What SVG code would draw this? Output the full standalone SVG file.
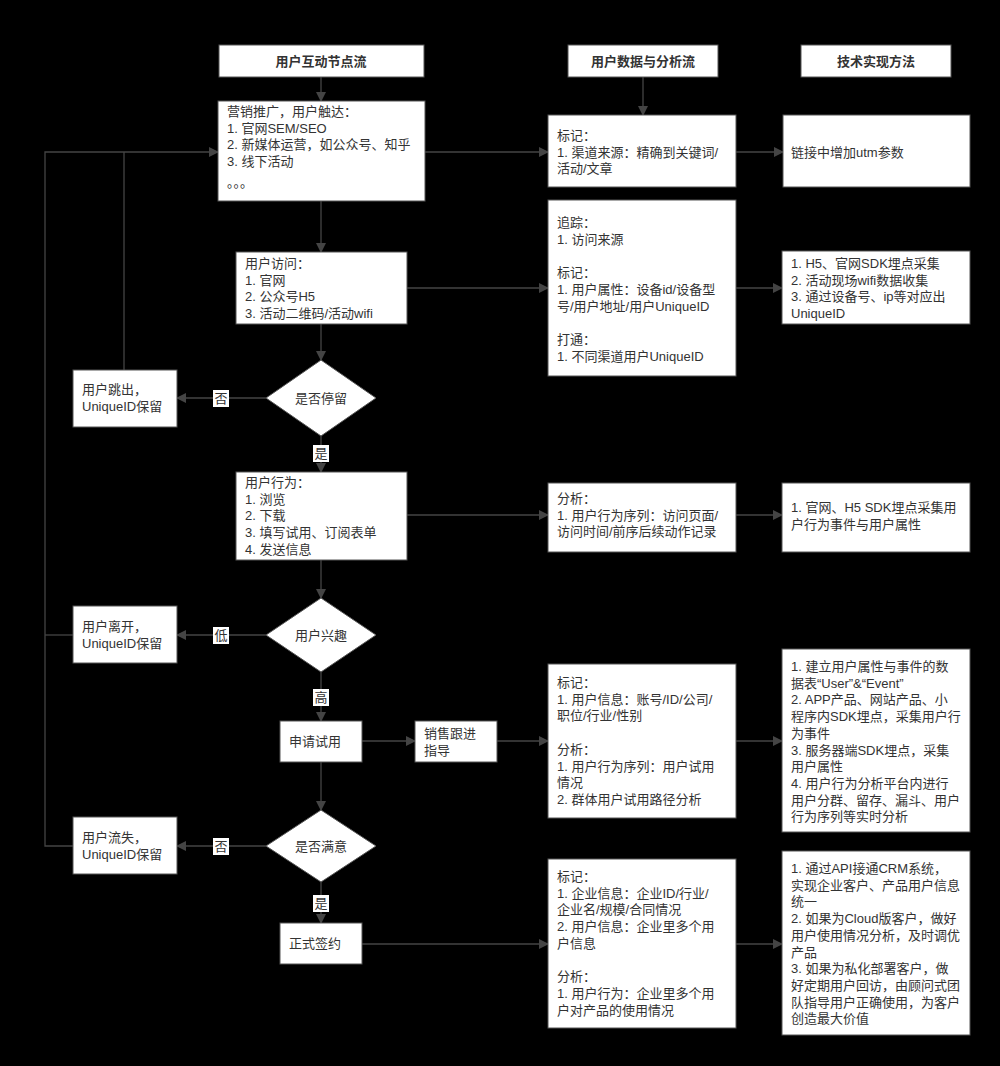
<svg xmlns="http://www.w3.org/2000/svg" width="1000" height="1066" viewBox="0 0 1000 1066">
<defs>
<marker id="ar" markerWidth="10" markerHeight="10" refX="9" refY="5" orient="auto" markerUnits="userSpaceOnUse"><path d="M0,0 L10,5 L0,10 Z" fill="#444"/></marker>
<style>
.b{fill:#fff;stroke:#555;stroke-width:1}
.t{font-family:"Liberation Sans","Noto Sans CJK SC",sans-serif;font-size:13px;fill:#333}
.h{font-family:"Noto Sans CJK SC",sans-serif;font-size:13px;font-weight:bold;fill:#333;text-anchor:middle}
.c{text-anchor:middle}
.l{stroke:#444;stroke-width:1.3;fill:none}
.a{stroke:#444;stroke-width:1.3;fill:none;marker-end:url(#ar)}
.lb{fill:#fff}
</style>
</defs>
<rect width="1000" height="1066" fill="#000"/>
<g id="connectors">
<path class="a" d="M321,77 V101"/>
<path class="a" d="M643,77 V115"/>
<path class="a" d="M321,201 V252"/>
<path class="a" d="M321,324 V360"/>
<path class="a" d="M321,436 V472"/>
<path class="a" d="M321,560 V598"/>
<path class="a" d="M321,672 V721"/>
<path class="a" d="M321,762 V810"/>
<path class="a" d="M321,882 V923"/>
<path class="a" d="M425,152 H548"/>
<path class="a" d="M736,152 H783"/>
<path class="a" d="M407,288 H548"/>
<path class="a" d="M736,288 H782"/>
<path class="a" d="M407,515 H548"/>
<path class="a" d="M736,515 H782"/>
<path class="a" d="M362,741 H415"/>
<path class="a" d="M497,741 H548"/>
<path class="a" d="M736,741 H782"/>
<path class="a" d="M362,944 H548"/>
<path class="a" d="M736,944 H782"/>
<path class="a" d="M266,398 H177"/>
<path class="a" d="M266,635 H177"/>
<path class="a" d="M266,846 H177"/>
<path class="l" d="M124,370 V152"/>
<path class="a" d="M73,846 H45 V152 H218"/>
<path class="l" d="M73,635 H45"/>
<rect class="lb" x="213" y="390" width="16" height="17"/><text class="t c" x="221" y="403">否</text>
<rect class="lb" x="213" y="627" width="16" height="17"/><text class="t c" x="221" y="640">低</text>
<rect class="lb" x="213" y="838" width="16" height="17"/><text class="t c" x="221" y="851">否</text>
<rect class="lb" x="313" y="445" width="16" height="17"/><text class="t c" x="321" y="458">是</text>
<rect class="lb" x="313" y="689" width="16" height="17"/><text class="t c" x="321" y="702">高</text>
<rect class="lb" x="313" y="895" width="16" height="17"/><text class="t c" x="321" y="908">是</text>
</g>
<g id="h1"><rect class="b" x="219" y="45" width="205" height="32"/><text class="h" x="321" y="66">用户互动节点流</text></g>
<g id="h2"><rect class="b" x="568" y="45" width="150" height="32"/><text class="h" x="643" y="66">用户数据与分析流</text></g>
<g id="h3"><rect class="b" x="801" y="45" width="150" height="32"/><text class="h" x="876" y="66">技术实现方法</text></g>
<g id="n1"><rect class="b" x="218" y="101" width="207" height="100"/><text class="t" x="227" y="116"><tspan x="227">营销推广，用户触达：</tspan><tspan x="227" dy="16.7">1. 官网SEM/SEO</tspan><tspan x="227" dy="16.7">2. 新媒体运营，如公众号、知乎</tspan><tspan x="227" dy="16.7">3. 线下活动</tspan><tspan x="227" dy="21">。。。</tspan></text></g>
<g id="n2"><rect class="b" x="236" y="252" width="171" height="72"/><text class="t" x="245" y="268"><tspan x="245">用户访问：</tspan><tspan x="245" dy="16.7">1. 官网</tspan><tspan x="245" dy="16.7">2. 公众号H5</tspan><tspan x="245" dy="16.7">3. 活动二维码/活动wifi</tspan></text></g>
<g id="d1"><polygon class="b" points="321,360 376,398 321,436 266,398"/><text class="t c" x="321" y="403">是否停留</text></g>
<g id="n3"><rect class="b" x="73" y="370" width="104" height="57"/><text class="t" x="82" y="394"><tspan x="82">用户跳出，</tspan><tspan x="82" dy="16.7">UniqueID保留</tspan></text></g>
<g id="n4"><rect class="b" x="236" y="472" width="171" height="88"/><text class="t" x="245" y="487"><tspan x="245">用户行为：</tspan><tspan x="245" dy="16.7">1. 浏览</tspan><tspan x="245" dy="16.7">2. 下载</tspan><tspan x="245" dy="16.7">3. 填写试用、订阅表单</tspan><tspan x="245" dy="16.7">4. 发送信息</tspan></text></g>
<g id="d2"><polygon class="b" points="321,598 376,635 321,672 266,635"/><text class="t c" x="321" y="640">用户兴趣</text></g>
<g id="n5"><rect class="b" x="73" y="606" width="104" height="57"/><text class="t" x="82" y="631"><tspan x="82">用户离开，</tspan><tspan x="82" dy="16.7">UniqueID保留</tspan></text></g>
<g id="n6"><rect class="b" x="280" y="721" width="82" height="41"/><text class="t" x="289" y="746">申请试用</text></g>
<g id="n7"><rect class="b" x="415" y="721" width="82" height="41"/><text class="t" x="424" y="738"><tspan x="424">销售跟进</tspan><tspan x="424" dy="16.7">指导</tspan></text></g>
<g id="d3"><polygon class="b" points="321,810 376,846 321,882 266,846"/><text class="t c" x="321" y="851">是否满意</text></g>
<g id="n8"><rect class="b" x="73" y="817" width="104" height="57"/><text class="t" x="82" y="842"><tspan x="82">用户流失，</tspan><tspan x="82" dy="16.7">UniqueID保留</tspan></text></g>
<g id="n9"><rect class="b" x="280" y="923" width="82" height="41"/><text class="t" x="289" y="948">正式签约</text></g>
<g id="m1"><rect class="b" x="548" y="115" width="188" height="72"/><text class="t" x="557" y="140"><tspan x="557">标记：</tspan><tspan x="557" dy="16.7">1. 渠道来源：精确到关键词/</tspan><tspan x="557" dy="16.7">活动/文章</tspan></text></g>
<g id="m2"><rect class="b" x="548" y="200" width="188" height="176"/><text class="t" x="557" y="227"><tspan x="557">追踪：</tspan><tspan x="557" dy="16.7">1. 访问来源</tspan><tspan x="557" dy="33.4">标记：</tspan><tspan x="557" dy="16.7">1. 用户属性：设备id/设备型</tspan><tspan x="557" dy="16.7">号/用户地址/用户UniqueID</tspan><tspan x="557" dy="33.4">打通：</tspan><tspan x="557" dy="16.7">1. 不同渠道用户UniqueID</tspan></text></g>
<g id="m3"><rect class="b" x="548" y="483" width="188" height="69"/><text class="t" x="557" y="503"><tspan x="557">分析：</tspan><tspan x="557" dy="16.7">1. 用户行为序列：访问页面/</tspan><tspan x="557" dy="16.7">访问时间/前序后续动作记录</tspan></text></g>
<g id="m4"><rect class="b" x="548" y="664" width="188" height="154"/><text class="t" x="557" y="687"><tspan x="557">标记：</tspan><tspan x="557" dy="16.7">1. 用户信息：账号/ID/公司/</tspan><tspan x="557" dy="16.7">职位/行业/性别</tspan><tspan x="557" dy="33.4">分析：</tspan><tspan x="557" dy="16.7">1. 用户行为序列：用户试用</tspan><tspan x="557" dy="16.7">情况</tspan><tspan x="557" dy="16.7">2. 群体用户试用路径分析</tspan></text></g>
<g id="m5"><rect class="b" x="548" y="859" width="188" height="169"/><text class="t" x="557" y="881"><tspan x="557">标记：</tspan><tspan x="557" dy="16.7">1. 企业信息：企业ID/行业/</tspan><tspan x="557" dy="16.7">企业名/规模/合同情况</tspan><tspan x="557" dy="16.7">2. 用户信息：企业里多个用</tspan><tspan x="557" dy="16.7">户信息</tspan><tspan x="557" dy="33.4">分析：</tspan><tspan x="557" dy="16.7">1. 用户行为：企业里多个用</tspan><tspan x="557" dy="16.7">户对产品的使用情况</tspan></text></g>
<g id="t1"><rect class="b" x="783" y="115" width="187" height="72"/><text class="t" x="791" y="157">链接中增加utm参数</text></g>
<g id="t2"><rect class="b" x="782" y="251" width="188" height="73"/><text class="t" x="791" y="268"><tspan x="791">1. H5、官网SDK埋点采集</tspan><tspan x="791" dy="16.7">2. 活动现场wifi数据收集</tspan><tspan x="791" dy="16.7">3. 通过设备号、ip等对应出</tspan><tspan x="791" dy="16.7">UniqueID</tspan></text></g>
<g id="t3"><rect class="b" x="782" y="483" width="188" height="69"/><text class="t" x="791" y="512"><tspan x="791">1. 官网、H5 SDK埋点采集用</tspan><tspan x="791" dy="16.7">户行为事件与用户属性</tspan></text></g>
<g id="t4"><rect class="b" x="782" y="649" width="188" height="183"/><text class="t" x="791" y="671"><tspan x="791">1. 建立用户属性与事件的数</tspan><tspan x="791" dy="16.7">据表“User”&amp;“Event”</tspan><tspan x="791" dy="16.7">2. APP产品、网站产品、小</tspan><tspan x="791" dy="16.7">程序内SDK埋点，采集用户行</tspan><tspan x="791" dy="16.7">为事件</tspan><tspan x="791" dy="16.7">3. 服务器端SDK埋点，采集</tspan><tspan x="791" dy="16.7">用户属性</tspan><tspan x="791" dy="16.7">4. 用户行为分析平台内进行</tspan><tspan x="791" dy="16.7">用户分群、留存、漏斗、用户</tspan><tspan x="791" dy="16.7">行为序列等实时分析</tspan></text></g>
<g id="t5"><rect class="b" x="782" y="851" width="188" height="184"/><text class="t" x="791" y="873"><tspan x="791">1. 通过API接通CRM系统，</tspan><tspan x="791" dy="16.7">实现企业客户、产品用户信息</tspan><tspan x="791" dy="16.7">统一</tspan><tspan x="791" dy="16.7">2. 如果为Cloud版客户，做好</tspan><tspan x="791" dy="16.7">用户使用情况分析，及时调优</tspan><tspan x="791" dy="16.7">产品</tspan><tspan x="791" dy="16.7">3. 如果为私化部署客户，做</tspan><tspan x="791" dy="16.7">好定期用户回访，由顾问式团</tspan><tspan x="791" dy="16.7">队指导用户正确使用，为客户</tspan><tspan x="791" dy="16.7">创造最大价值</tspan></text></g>
</svg>
